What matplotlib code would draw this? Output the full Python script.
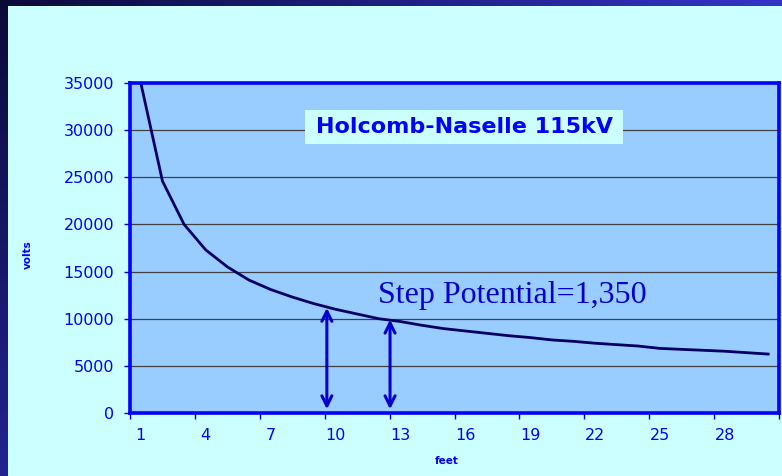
import numpy as np
import matplotlib
matplotlib.use('Agg')
import matplotlib.pyplot as plt
from matplotlib.patches import Rectangle

# values (one point per foot)
feet = np.arange(1, 31)
volts = [35000, 24600, 20000, 17300, 15500, 14100, 13100, 12300, 11600, 11000,
         10500, 10000, 9700, 9300, 8950, 8700, 8450, 8200, 8000, 7750,
         7600, 7400, 7250, 7100, 6850, 6750, 6650, 6550, 6400, 6250]
yticks = np.arange(0, 35001, 5000)
xlabels = feet[::3]
arrow_x = [9.6, 12.52]
arrow_top = [11150, 9900]

W, H = 782, 476
fig = plt.figure(figsize=(W / 100, H / 100), dpi=100)

# slide background
bg = fig.add_axes([0, 0, 1, 1])
bg.axis('off')
xx, yy = np.meshgrid(np.linspace(0, 1, 200), np.linspace(0, 1, 120))
t = np.clip(xx + 0.6 * yy, 0, 1)
dark = np.array([10, 10, 58]) / 255
blue = np.array([52, 52, 200]) / 255
img = dark + (blue - dark) * t[..., None]
bg.imshow(img, aspect='auto', extent=[0, 1, 0, 1], origin='upper')
bg.set_xlim(0, 1)
bg.set_ylim(0, 1)
bg.add_patch(Rectangle((8 / W, 0), 1 - 8 / W, 1 - 6 / H,
                       facecolor='#ccffff', edgecolor='none'))

ax = fig.add_axes([130 / W, 1 - 413 / H, (779 - 130) / W, (413 - 83) / H])
ax.set_facecolor('#99ccff')
ax.plot(feet, volts, color='#000066', lw=2.0, zorder=3)
ax.set_xlim(0.5, 30.5)
ax.set_ylim(0, 35000)

ax.set_yticks(yticks)
ax.set_yticklabels([str(v) for v in yticks])
ax.set_xticks(np.arange(0.5, 31, 3))
ax.set_xticklabels([])
ax.set_xticks(xlabels, minor=True)
ax.set_xticklabels([str(v) for v in xlabels], minor=True)
ax.tick_params(axis='x', which='major', length=4, width=1, color='#0000cc', direction='out')
ax.tick_params(axis='x', which='minor', length=0, pad=11, labelsize=11.5, labelcolor='#0000ff')
ax.tick_params(axis='y', length=4.5, width=1, color='#0000cc', pad=7,
               labelsize=11.5, labelcolor='#0000ff')
ax.yaxis.grid(True, color='#404040', lw=0.9)
ax.set_axisbelow(True)
for s in ax.spines.values():
    s.set_color('#0000ff')
    s.set_linewidth(2.6)
    s.set_zorder(4)

for x, top in zip(arrow_x, arrow_top):
    ax.annotate('', xy=(x, top), xytext=(x, 400),
                arrowprops=dict(arrowstyle='<->', color='#0000cc', lw=2.2,
                                mutation_scale=18, shrinkA=0, shrinkB=0))

# title box
fig.add_artist(Rectangle((305 / W, 1 - 144 / H), 318 / W, 34 / H,
                         transform=fig.transFigure, facecolor='#ccffff',
                         edgecolor='none', zorder=5))
fig.text(464 / W, 1 - 127 / H, 'Holcomb-Naselle 115kV', ha='center', va='center',
         fontsize=16, fontweight='bold', color='#0000ff', zorder=6)

fig.text(378 / W, 1 - 303 / H, 'Step Potential=1,350', ha='left', va='baseline',
         fontsize=23, family='Liberation Serif', color='#0000cc', zorder=6)

fig.text(28 / W, 1 - 255 / H, 'volts', rotation=90, ha='center', va='center',
         fontsize=7.5, fontweight='bold', color='#0000ff')
fig.text(447 / W, 1 - 461 / H, 'feet', ha='center', va='center',
         fontsize=7.5, fontweight='bold', color='#0000ff')

fig.savefig('out.png', dpi=100)
